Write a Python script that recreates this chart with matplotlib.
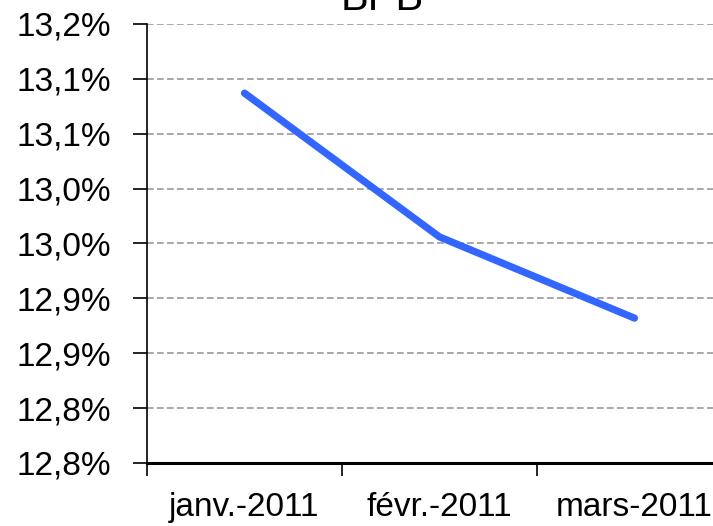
import matplotlib
matplotlib.use("Agg")
import matplotlib.pyplot as plt

# data
months = ["janv.-2011", "févr.-2011", "mars-2011"]
rates = [13.137, 13.006, 12.932]
ytick_values = [12.80, 12.85, 12.90, 12.95, 13.00, 13.05, 13.10, 13.15, 13.20]
ytick_labels = ["12,8%", "12,8%", "12,9%", "12,9%", "13,0%", "13,0%", "13,1%", "13,1%", "13,2%"]
title = "BPB"

plt.rcParams["font.family"] = ["Liberation Sans", "DejaVu Sans"]

fig = plt.figure(figsize=(7.13, 5.26), dpi=100)
ax = fig.add_axes([0.2062, 0.1198, 0.8204, 0.8346])

x = list(range(len(months)))
ax.plot(x, rates, color="#3366ff", linewidth=5.2, solid_capstyle="round", zorder=3)

ax.set_xlim(-0.5, len(months) - 0.5)
ax.set_ylim(ytick_values[0], ytick_values[-1])

ax.set_yticks(ytick_values)
ax.set_yticklabels(ytick_labels, fontsize=24)
ax.tick_params(axis="y", length=10, width=1.2, pad=16, direction="out")

ax.set_xticks(x)
ax.set_xticklabels(months, fontsize=24)
ax.set_xticks([i - 0.5 for i in range(len(months) + 1)], minor=True)
ax.tick_params(axis="x", which="major", length=0, pad=21)
ax.tick_params(axis="x", which="minor", length=9, width=1.2, direction="out")

ax.grid(axis="y", color="#999999", linestyle=(0, (4, 2)), linewidth=1.2)
ax.set_axisbelow(True)

for s in ["top", "right"]:
    ax.spines[s].set_visible(False)
ax.spines["left"].set_linewidth(1.2)
ax.spines["bottom"].set_linewidth(2.2)

fig.text(382 / 713, 1 - 10 / 526, title, fontsize=30, ha="center", va="baseline")

fig.savefig("out.png", dpi=100)
